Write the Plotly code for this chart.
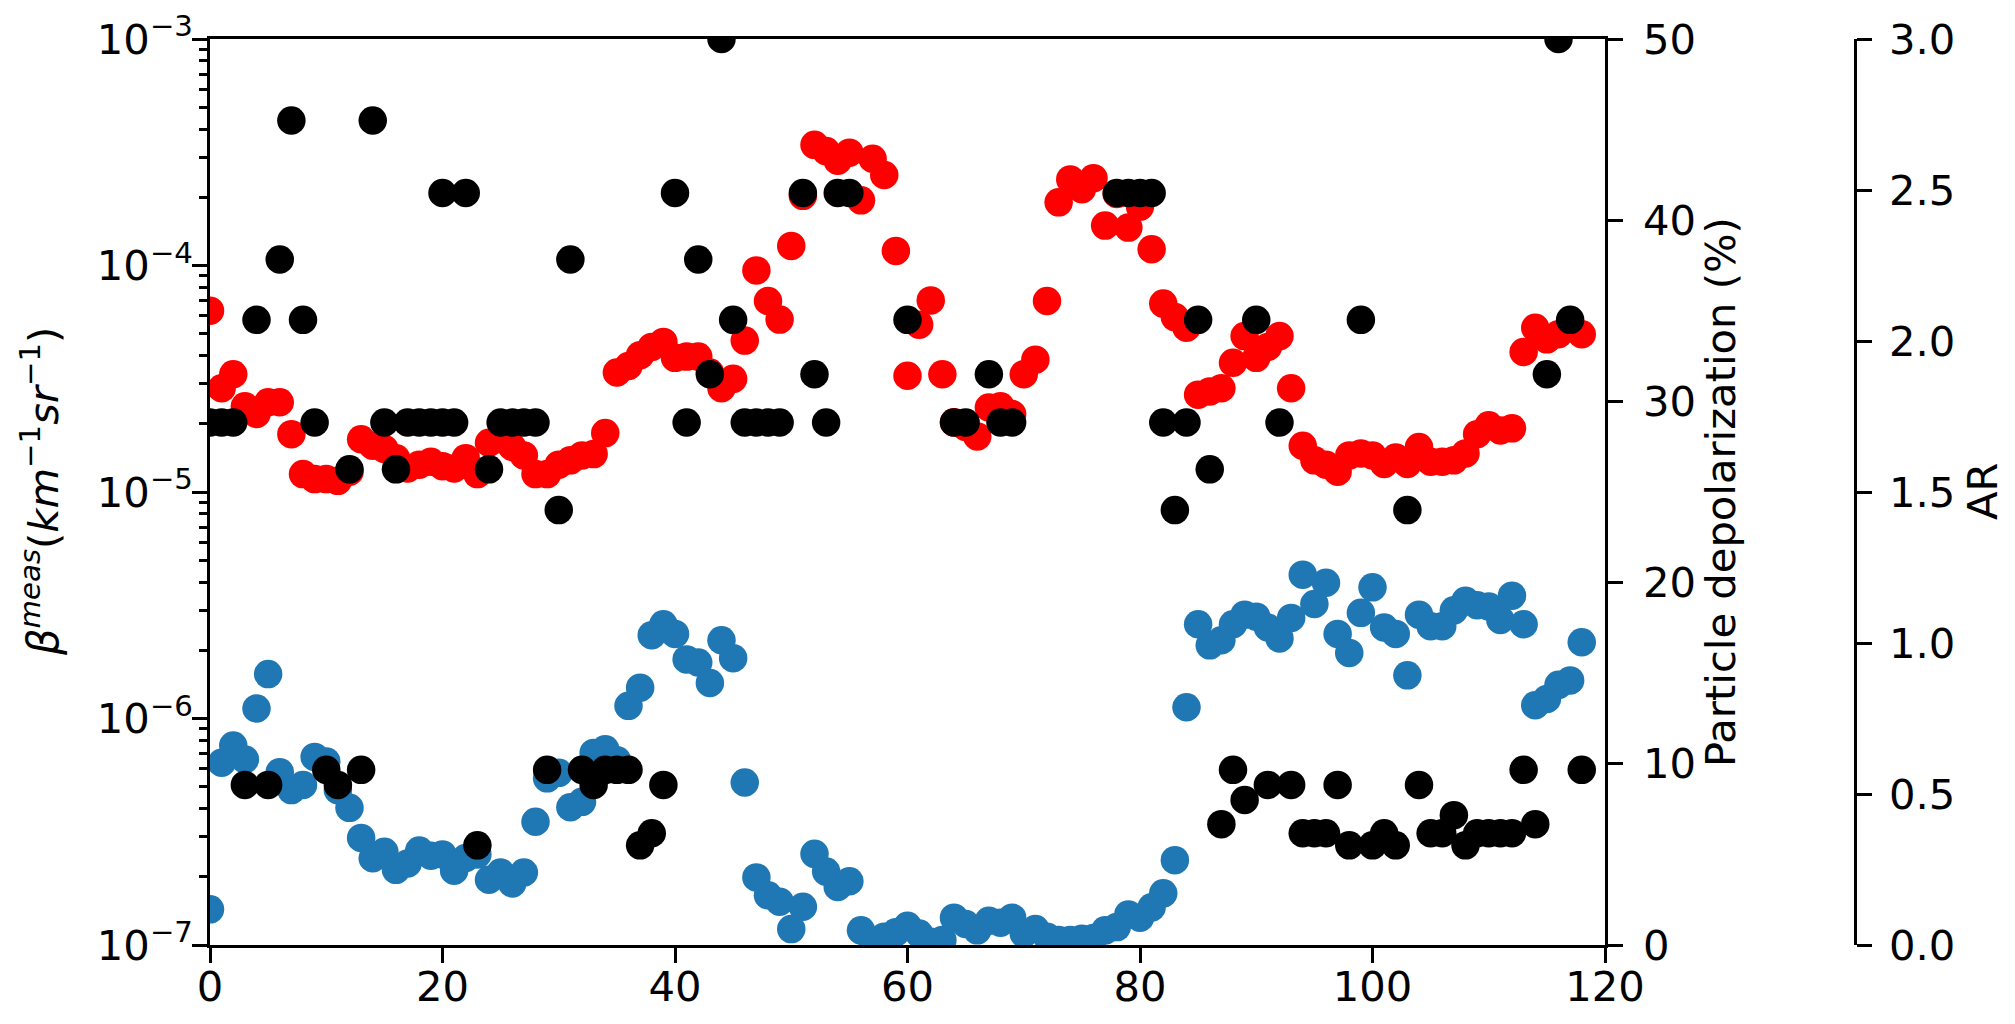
import plotly.graph_objects as go

# ---------------- data ----------------
index = list(range(119))

# backscatter (left, log axis) - red
beta_meas = [
    6.32e-5, 2.87e-5, 3.31e-5, 2.39e-5, 2.21e-5, 2.49e-5, 2.49e-5, 1.80e-5, 1.20e-5, 1.14e-5,
    1.14e-5, 1.12e-5, 1.23e-5, 1.71e-5, 1.60e-5, 1.55e-5, 1.41e-5, 1.27e-5, 1.32e-5, 1.36e-5,
    1.30e-5, 1.27e-5, 1.41e-5, 1.20e-5, 1.65e-5, 1.71e-5, 1.58e-5, 1.45e-5, 1.20e-5, 1.20e-5,
    1.32e-5, 1.38e-5, 1.45e-5, 1.47e-5, 1.82e-5, 3.37e-5, 3.60e-5, 4.02e-5, 4.37e-5, 4.60e-5,
    3.91e-5, 3.96e-5, 3.96e-5, 3.37e-5, 2.87e-5, 3.16e-5, 4.66e-5, 9.51e-5, 6.97e-5, 5.77e-5,
    1.22e-4, 2.03e-4, 3.41e-4, 3.20e-4, 2.90e-4, 3.15e-4, 1.94e-4, 2.96e-4, 2.51e-4, 1.16e-4,
    3.26e-5, 5.48e-5, 7.01e-5, 3.31e-5, 2.03e-5, 1.94e-5, 1.76e-5, 2.36e-5, 2.39e-5, 2.21e-5,
    3.31e-5, 3.84e-5, 6.97e-5, 1.90e-4, 2.40e-4, 2.17e-4, 2.43e-4, 1.50e-4, 2.07e-4, 1.47e-4,
    1.82e-4, 1.18e-4, 6.79e-5, 5.92e-5, 5.31e-5, 2.69e-5, 2.78e-5, 2.87e-5, 3.72e-5, 4.88e-5,
    3.91e-5, 4.37e-5, 4.88e-5, 2.87e-5, 1.60e-5, 1.38e-5, 1.32e-5, 1.23e-5, 1.45e-5, 1.48e-5,
    1.45e-5, 1.33e-5, 1.42e-5, 1.33e-5, 1.58e-5, 1.36e-5, 1.36e-5, 1.38e-5, 1.48e-5, 1.80e-5,
    1.97e-5, 1.87e-5, 1.91e-5, 4.15e-5, 5.31e-5, 4.72e-5, 4.97e-5, 5.31e-5, 4.97e-5,
]

# particle depolarization (%) - blue
depol = [
    1.97, 10.06, 11.01, 10.24, 13.05, 14.95, 9.54, 8.55, 8.83, 10.38,
    10.13, 8.55, 7.57, 5.91, 4.79, 5.14, 4.15, 4.50, 5.21, 4.93,
    5.0, 4.1, 4.8, 5.0, 3.6, 4.0, 3.4, 4.0, 6.8, 9.2,
    9.5, 7.6, 7.9, 10.6, 10.8, 10.2, 13.2, 14.2, 17.1, 17.7,
    17.17, 15.76, 15.59, 14.46, 16.82, 15.83, 8.97, 3.73, 2.74, 2.39,
    0.88, 2.11, 5.03, 4.05, 3.20, 3.52, 0.81, 0.18, 0.46, 0.70,
    1.06, 0.63, 0.18, 0.28, 1.51, 1.16, 0.81, 1.34, 1.23, 1.51,
    0.63, 0.88, 0.46, 0.28, 0.28, 0.35, 0.39, 0.81, 0.99, 1.69,
    1.51, 2.08, 2.85, 4.68, 13.12, 17.70, 16.54, 16.82, 17.70, 18.23,
    18.12, 17.52, 16.92, 18.05, 20.44, 18.82, 19.99, 17.17, 16.12, 18.33,
    19.74, 17.52, 17.17, 14.88, 18.23, 17.59, 17.59, 18.47, 19.0, 18.75,
    18.68, 17.94, 19.28, 17.70, 13.23, 13.58, 14.36, 14.60, 16.71,
]

# aspect ratio (AR) - black
ar_x = [
    0, 1, 2, 3, 4, 5, 6, 7, 8, 9,
    10, 11, 12, 13, 14, 15, 16, 17, 18, 19,
    20, 20, 21, 22, 23, 24, 25, 26, 27, 28,
    29, 30, 31, 32, 33, 34, 35, 36, 37, 38,
    39, 40, 41, 42, 43, 44, 45, 46, 47, 48,
    49, 51, 52, 53, 54, 55, 60, 64, 65, 67,
    68, 69, 78, 79, 80, 81, 82, 83, 84, 85,
    86, 87, 88, 89, 90, 91, 92, 93, 94, 95,
    96, 97, 98, 99, 100, 101, 102, 103, 104, 105,
    106, 107, 108, 109, 110, 111, 112, 113, 114, 115,
    116, 117, 118,
]
ar = [
    1.73, 1.73, 1.73, 0.53, 2.07, 0.53, 2.27, 2.73, 2.07, 1.73,
    0.58, 0.53, 1.575, 0.58, 2.73, 1.73, 1.575, 1.73, 1.73, 1.73,
    2.49, 1.73, 1.73, 2.49, 0.33, 1.575, 1.73, 1.73, 1.73, 1.73,
    0.58, 1.44, 2.27, 0.58, 0.53, 0.58, 0.58, 0.58, 0.33, 0.37,
    0.53, 2.49, 1.73, 2.27, 1.89, 3.0, 2.07, 1.73, 1.73, 1.73,
    1.73, 2.49, 1.89, 1.73, 2.49, 2.49, 2.07, 1.73, 1.73, 1.89,
    1.73, 1.73, 2.49, 2.49, 2.49, 2.49, 1.73, 1.44, 1.73, 2.07,
    1.575, 0.40, 0.58, 0.48, 2.07, 0.53, 1.73, 0.53, 0.37, 0.37,
    0.37, 0.53, 0.33, 2.07, 0.33, 0.37, 0.33, 1.44, 0.53, 0.37,
    0.37, 0.43, 0.33, 0.37, 0.37, 0.37, 0.37, 0.58, 0.40, 1.89,
    3.0, 2.07, 0.58,
]

x_ticks = [0, 20, 40, 60, 80, 100, 120]
beta_ticks = [1e-7, 1e-6, 1e-5, 1e-4, 1e-3]
beta_ticktext = ["10<sup>\u22127</sup>", "10<sup>\u22126</sup>", "10<sup>\u22125</sup>",
                 "10<sup>\u22124</sup>", "10<sup>\u22123</sup>"]
depol_ticks = [0, 10, 20, 30, 40, 50]
ar_ticks = [0.0, 0.5, 1.0, 1.5, 2.0, 2.5, 3.0]

# ---------------- styling ----------------
FONT = "DejaVu Sans"
FS = 41.7
LW = 3.3
MS = 28.5
W, H = 2015, 1024
ML, MR, MT, MB = 210, 155, 39, 79
PW = W - ML - MR
XDOM = (1605 - ML) / PW
AR_POS = (1855 - ML) / PW

minor_vals = [k * 10.0 ** e for e in range(-7, -3) for k in range(2, 10)]

fig = go.Figure()
fig.add_trace(go.Scatter(x=index, y=beta_meas, mode="markers", yaxis="y",
                         marker=dict(color="#ff0000", size=MS, line=dict(width=0)),
                         showlegend=False))
fig.add_trace(go.Scatter(x=index, y=depol, mode="markers", yaxis="y2",
                         marker=dict(color="#1f77b4", size=MS, line=dict(width=0)),
                         showlegend=False))
fig.add_trace(go.Scatter(x=ar_x, y=ar, mode="markers", yaxis="y3",
                         marker=dict(color="#000000", size=MS, line=dict(width=0)),
                         showlegend=False))

tickfont = dict(family=FONT, size=FS, color="black")
common = dict(showgrid=False, zeroline=False, showline=True, linecolor="black",
              linewidth=LW, ticks="outside", ticklen=14.6, tickwidth=LW,
              tickcolor="black", tickfont=tickfont, automargin=False)

fig.update_layout(
    width=W, height=H,
    margin=dict(l=ML, r=MR, t=MT, b=MB, pad=0),
    paper_bgcolor="white", plot_bgcolor="white",
    template="none",
    xaxis=dict(domain=[0, XDOM], range=[0, 120], tickmode="array", tickvals=x_ticks,
               mirror=True, ticklabelstandoff=-12, **common),
    yaxis=dict(type="log", range=[-7, -3], tickmode="array", tickvals=beta_ticks,
               ticktext=beta_ticktext, ticklabelstandoff=-9,
               minor=dict(tickmode="array", tickvals=minor_vals, ticks="outside",
                          ticklen=8.3, tickwidth=2.5, tickcolor="black", showgrid=False),
               **common),
    yaxis2=dict(overlaying="y", side="right", anchor="x", range=[0, 50],
                tickmode="array", tickvals=depol_ticks, ticklabelstandoff=12, **common),
    yaxis3=dict(overlaying="y", side="right", anchor="free", position=AR_POS,
                range=[0, 3], tickmode="array", tickvals=ar_ticks,
                ticktext=["%.1f" % v for v in ar_ticks], ticklabelstandoff=9, **common),
)

def px_x(X):
    return (X - ML) / PW

ymid = 0.5
annot_font = dict(family=FONT, size=FS, color="black")
fig.add_annotation(
    text="<i>\u03b2</i><sup><i>meas</i></sup>(<i>km</i><sup>\u22121</sup><i>sr</i><sup>\u22121</sup>)",
    xref="paper", yref="paper", x=px_x(40), y=ymid, textangle=-90,
    xanchor="center", yanchor="middle", showarrow=False, font=annot_font)
fig.add_annotation(
    text="Particle depolarization (%)",
    xref="paper", yref="paper", x=px_x(1720), y=ymid, textangle=-90,
    xanchor="center", yanchor="middle", showarrow=False, font=annot_font)
fig.add_annotation(
    text="AR",
    xref="paper", yref="paper", x=px_x(1982), y=ymid, textangle=-90,
    xanchor="center", yanchor="middle", showarrow=False, font=annot_font)

fig.write_html("out.html",
               config={"displayModeBar": False},
               post_script="document.body.style.margin='0px';document.body.style.overflow='hidden';")
